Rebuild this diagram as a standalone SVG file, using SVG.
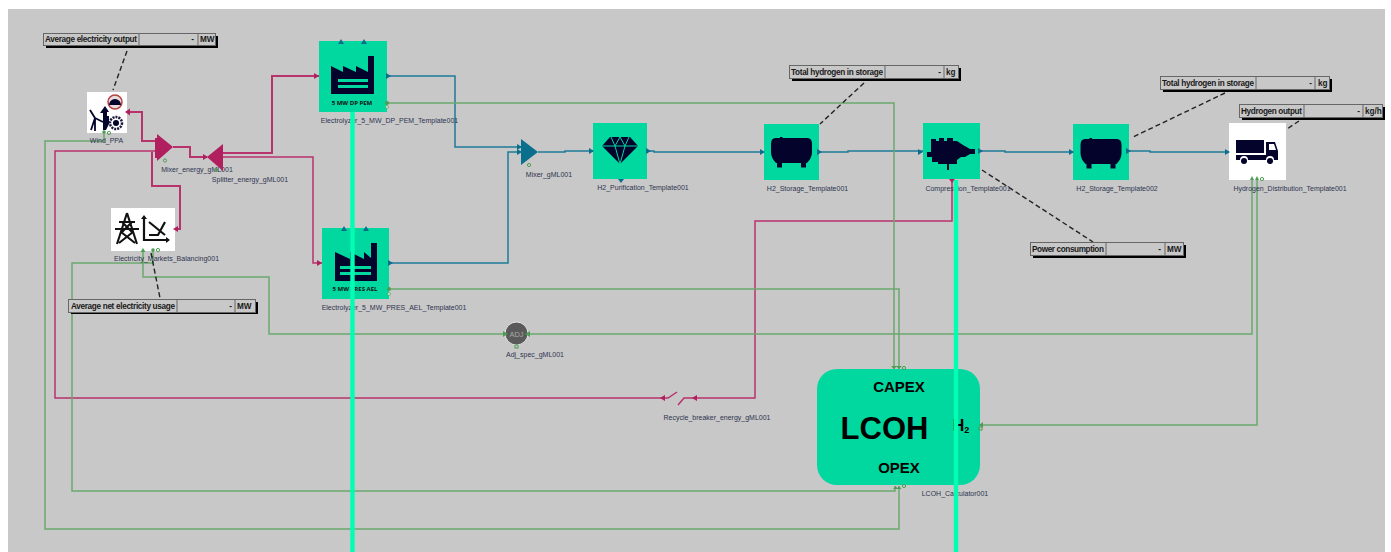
<svg xmlns="http://www.w3.org/2000/svg" width="1391" height="552" viewBox="0 0 1391 552">
<style>
.c{fill:none;stroke-width:1.5;stroke-linejoin:miter}
.r{stroke:#b8326c}.b{stroke:#1d7a96}.g{stroke:#6aa86e}
.t{stroke-width:2}
.d{fill:none;stroke:#222;stroke-width:1.4;stroke-dasharray:5 3}
.tr{fill:#b01f5e}.tb{fill:#0a6f8c}.tg{fill:#4f9d55}
.node{fill:#00d8a0}
.icon{fill:#03032c}
.lbl{font:7px "Liberation Sans",Arial,sans-serif;fill:#2e3450;text-anchor:middle}
.cap{font:bold 8.200px "Liberation Sans",Arial,sans-serif;fill:#1a1a1a}
.big{font-family:"Liberation Sans",Arial,sans-serif;font-weight:bold;fill:#000;text-anchor:middle}
.box{fill:#c8c8c8;stroke:#666;stroke-width:1}
.sh{fill:#000}
.cy{stroke:#00ffb2;stroke-width:4.400;fill:none}
.o{fill:none;stroke:#4f9d55;stroke-width:1}
.tag{font:bold 6px "Open Sans",sans-serif;fill:#111;text-anchor:middle}
</style>
<defs>
<path id="tank" class="icon" d="M-20.500-8Q-20.500-14-16-14H-11.500V-15H-9V-14H16Q20.500-14 20.500-8V0Q20.500 6 15.500 11H14.500V15.500H9.500V11H-9.500V15.500H-14.500V11H-15.500Q-20.500 6-20.500 0z"/>
</defs>
<rect width="1391" height="552" fill="#fff"/>
<rect x="8" y="9" width="1377" height="543" fill="#c8c8c8"/>

<g id="connectors">
<path class="c r t" d="M127 112H142V141H157"/>
<path class="c r t" d="M173 147H190V157H207"/>
<path class="c r t" d="M223 153H272V76H319"/>
<path class="c r" d="M223 157H313V263H322"/>
<path class="c r t" d="M172 229H180V186H152V152"/>
<path class="c r" d="M952 180V221H755V398H684L678 405"/>
<path class="c r" d="M677 392L668 398H55V151H157"/>
<path class="c b" d="M387 76H455V147H521"/>
<path class="c b" d="M389 263H508V152H521"/>
<path class="c b" d="M538 152H565V151H593"/>
<path class="c b" d="M647 151H654V152H764"/>
<path class="c b" d="M819 152H848V151H923"/>
<path class="c b" d="M980 151H1005V152H1073"/>
<path class="c b" d="M1129 151H1150V152H1229"/>
<path class="c g" d="M387 103H894V369"/>
<path class="c g" d="M389 289H899V369"/>
<path class="c g" d="M104 132V141H45V529H899V486"/>
<path class="c g" d="M153 250V263H72V491H895V486"/>
<path class="c g" d="M143 250V277H269V334H505"/>
<path class="c g" d="M528 334H1252V178"/>
<path class="c g" d="M1257 178V425H980"/>
<path class="d" d="M127 51L113 90"/>
<path class="d" d="M151 253L160 298"/>
<path class="d" d="M864 83L820 124"/>
<path class="d" d="M982 170L1093 242"/>
<path class="d" d="M1225 93L1133 137"/>
<path class="d" d="M1299 121L1287 129"/>
</g>

<g id="Wind_PPA">
<rect x="87" y="92" width="40" height="41" fill="#fff"/>
<circle cx="115" cy="102" r="7" fill="#e8dcdc" stroke="#b8403f" stroke-width="1.500"/>
<path class="icon" d="M109 105a6 6 0 0 1 12 0z"/>
<circle cx="116" cy="123" r="6" fill="none" stroke="#1a1a3c" stroke-width="2.500" stroke-dasharray="2 1"/>
<circle cx="116" cy="123" r="3" class="icon"/>
<path d="M95 131V118M95 118L90 110M95 118L91 130M95 118L103 122" fill="none" stroke="#03032c" stroke-width="1.800"/>
<path class="icon" d="M103 130V113L100 113L105 106L109 112L107 112V116H109V124L106 130z"/>
<text class="lbl" x="106.500" y="143">Wind_PPA</text>
</g>

<g id="Mixer_energy_gML001">
<path class="tr" d="M157 134L173 147L157 161z"/>
<text class="lbl" x="197" y="172">Mixer_energy_gML001</text>
</g>
<g id="Splitter_energy_gML001">
<path class="tr" d="M207 157L223 144V171z"/>
<text class="lbl" x="250" y="182">Splitter_energy_gML001</text>
</g>

<g id="Electricity_Markets_Balancing001">
<rect x="111" y="208" width="64" height="43" fill="#fff"/>
<path d="M127 213L117 244M127 213L137 244M119 222H135M115 229H139M121 232L135 243M133 232L119 243M122 222L133 233M132 222L121 233" fill="none" stroke="#111" stroke-width="2.100"/>
<path d="M144 218V240H168" fill="none" stroke="#111" stroke-width="2.200"/>
<path d="M149 222L165 235M149 235H158L165 222" fill="none" stroke="#111" stroke-width="2.200"/>
<path d="M141 219l3-4 3 4zM166 237l4 3-4 3z" fill="#111"/>
<text class="lbl" x="166.500" y="261">Electricity_Markets_Balancing001</text>
</g>

<g id="Electrolyzer_5_MW_DP_PEM_Template001">
<rect class="node" x="319" y="41" width="68" height="71"/>
<path class="icon" d="M331 66L343 72V66L356 72V66L368 72V56H374V94H331z"/>
<path fill="#00d8a0" d="M338 79H368V82H338zM338 85H368V88H338z"/>
<text class="tag" x="352" y="105">5 MW DP PEM</text>
<text class="lbl" x="389.500" y="123">Electrolyzer_5_MW_DP_PEM_Template001</text>
</g>

<g id="Electrolyzer_5_MW_PRES_AEL_Template001">
<rect class="node" x="322" y="228" width="67" height="71"/>
<path class="icon" d="M335 252L350 259V252L364 259V252L371 258V243H377V281H335z"/>
<path fill="#00d8a0" d="M340 266H371V269H340zM340 272H371V275H340z"/>
<text class="tag" x="355" y="291">5 MW PRES AEL</text>
<text class="lbl" x="394" y="310">Electrolyzer_5_MW_PRES_AEL_Template001</text>
</g>

<g id="Mixer_gML001">
<path class="tb" d="M521 139L538 152L521 165z"/>
<text class="lbl" x="549" y="177">Mixer_gML001</text>
</g>

<g id="H2_Purification_Template001">
<rect class="node" x="593" y="123" width="54" height="56"/>
<path class="icon" d="M610 137H630L638 146L620 164L602 146z"/>
<path d="M602 146H638M611 137L615 146L620 164M629 137L625 146L620 164M615 146L620 137L625 146" fill="none" stroke="#00d8a0" stroke-width="1"/>
<text class="lbl" x="643" y="190">H2_Purification_Template001</text>
</g>

<g id="H2_Storage_Template001">
<rect class="node" x="764" y="124" width="55" height="56"/>
<use href="#tank" x="791.500" y="152"/>
<text class="lbl" x="807.500" y="191">H2_Storage_Template001</text>
</g>

<g id="Compression_Template001">
<rect class="node" x="923" y="123" width="57" height="56"/>
<path class="icon" d="M927 152H931V139H936V141H939V138H944V141H947V138H953V141H957L963 145L970 149H975V154H970L965 157H961L957 160V164H949V170H947V164H938V162H932V157H927z"/>
<text class="lbl" x="968" y="191">Compression_Template001</text>
</g>

<g id="H2_Storage_Template002">
<rect class="node" x="1073" y="124" width="56" height="56"/>
<use href="#tank" x="1101" y="153"/>
<text class="lbl" x="1117" y="191">H2_Storage_Template002</text>
</g>

<g id="Hydrogen_Distribution_Template001">
<rect x="1229" y="123" width="57" height="57" fill="#fff"/>
<path class="icon" d="M1236 140H1264V153H1236zM1266 142H1275L1278 151V160H1274A4 4 0 0 0 1266 160H1248A4 4 0 0 0 1240 160H1236V155H1266z"/>
<path d="M1269 144V150H1276L1274 144z" fill="#fff"/>
<circle class="icon" cx="1244" cy="161" r="3"/><circle class="icon" cx="1270" cy="161" r="3"/>
<text class="lbl" x="1290" y="191">Hydrogen_Distribution_Template001</text>
</g>

<g id="Adj_spec_gML001">
<circle cx="516.500" cy="333.500" r="11.500" fill="#5a5a5a" stroke="#e8e8e8" stroke-width="1"/>
<text x="516.500" y="336.500" text-anchor="middle" style="font:7.500px 'Liberation Sans',sans-serif;fill:#a8a8a8">ADJ</text>
<text class="lbl" x="535" y="357">Adj_spec_gML001</text>
</g>

<g id="Recycle_breaker_energy_gML001">
<text class="lbl" x="717" y="420">Recycle_breaker_energy_gML001</text>
</g>

<g id="LCOH_Calculator001">
<rect class="node" x="817" y="369" width="163" height="116" rx="20"/>
<text class="big" x="899" y="392" font-size="15">CAPEX</text>
<text class="big" x="884.500" y="439" font-size="31">LCOH</text>
<text class="big" x="899" y="473" font-size="15">OPEX</text>
<text class="big" x="961" y="431" font-size="16">H<tspan font-size="9" dy="2">2</tspan></text>
<text class="lbl" x="955" y="496">LCOH_Calculator001</text>
</g>

<g id="readout_average_electricity_output">
<rect class="sh" x="46" y="36" width="172" height="12"/>
<rect class="box" x="43.500" y="33.500" width="172" height="12"/>
<path class="box" d="M139 33.500V45.500M198 33.500V45.500"/>
<text class="cap" x="45" y="42" textLength="92">Average electricity output</text>
<text class="cap" x="194" y="42" text-anchor="end">-</text>
<text class="cap" x="200" y="42">MW</text>
</g>
<g id="readout_average_net_electricity_usage">
<rect class="sh" x="71" y="302" width="187" height="12"/>
<rect class="box" x="68.500" y="299.500" width="187" height="13"/>
<path class="box" d="M177 299.500V312.500M235 299.500V312.500"/>
<text class="cap" x="71" y="309" textLength="104">Average net electricity usage</text>
<text class="cap" x="232" y="309" text-anchor="end">-</text>
<text class="cap" x="237" y="309">MW</text>
</g>
<g id="readout_total_hydrogen_1">
<rect class="sh" x="792" y="68" width="169" height="13"/>
<rect class="box" x="789.500" y="65.500" width="169" height="13"/>
<path class="box" d="M885 65.500V78.500M944 65.500V78.500"/>
<text class="cap" x="791" y="75" textLength="92">Total hydrogen in storage</text>
<text class="cap" x="941" y="75" text-anchor="end">-</text>
<text class="cap" x="946" y="75">kg</text>
</g>
<g id="readout_total_hydrogen_2">
<rect class="sh" x="1163" y="79" width="169" height="13"/>
<rect class="box" x="1160.500" y="76.500" width="169" height="13"/>
<path class="box" d="M1256 76.500V89.500M1315 76.500V89.500"/>
<text class="cap" x="1162" y="86" textLength="92">Total hydrogen in storage</text>
<text class="cap" x="1312" y="86" text-anchor="end">-</text>
<text class="cap" x="1318" y="86">kg</text>
</g>
<g id="readout_hydrogen_output">
<rect class="sh" x="1242" y="107" width="143" height="13"/>
<rect class="box" x="1239.500" y="104.500" width="143" height="13"/>
<path class="box" d="M1304 104.500V117.500M1363 104.500V117.500"/>
<text class="cap" x="1241" y="114" textLength="61">Hydrogen output</text>
<text class="cap" x="1360" y="114" text-anchor="end">-</text>
<text class="cap" x="1365" y="114">kg/h</text>
</g>
<g id="readout_power_consumption">
<rect class="sh" x="1033" y="245" width="153" height="13"/>
<rect class="box" x="1030.500" y="242.500" width="153" height="13"/>
<path class="box" d="M1106 242.500V255.500M1165 242.500V255.500"/>
<text class="cap" x="1032" y="252" textLength="72">Power consumption</text>
<text class="cap" x="1161" y="252" text-anchor="end">-</text>
<text class="cap" x="1167" y="252">MW</text>
</g>

<g id="ports">
<g class="tr">
<path d="M125 108.500v7l5-3.500z" transform="rotate(180 127.500 112)"/>
<path d="M314 73v6l5-3z"/><path d="M317 260v6l5-3z"/>
<path d="M697 395v6l-5-3zM665 395v6l-5-3z"/>
<path d="M949 179h6l-3 4z"/>
<path d="M178 226v6l-5-3z"/>
<path d="M155 138h2v20h-2zM203 154l5 3-5 3z"/>
</g>
<g class="tb">
<path d="M338 44l3-5 3 5zM361 44l3-5 3 5z"/>
<path d="M341 231l3-5 3 5zM363 231l3-5 3 5z"/>
<path d="M386 73v6l5-3zM388 260v6l5-3z"/>
<path d="M517 144v6l5-3zM517 149v6l5-3z"/>
<path d="M589 148v6l5-3zM646 148v6l5-3zM618 179h6l-3 4zM760 149v6l5-3zM817 149v6l5-3zM918 149v6l5-3zM978 148v6l5-3zM1069 149v6l5-3zM1126 148v6l5-3zM1225 149v6l5-3z"/>
</g>
<g class="tg">
<circle cx="104" cy="132" r="1.800"/><circle cx="153" cy="250" r="1.800"/>
<path d="M140.500 252l2.500-4 2.500 4z"/>
<circle cx="387" cy="103" r="2"/><circle cx="389" cy="289" r="2"/>
<path d="M1250 180l2-4 2 4zM1255 180l2-4 2 4z"/>
<path d="M503 331v6l5-3zM530 331v6l-5-3z"/>
<path d="M891 366h6l-3 3zM896 366h6l-3 3zM893 489h5l-2.500-3zM896.500 489h5l-2.500-3zM983 422v6l-4-3z"/>
</g>
<circle class="o" cx="109" cy="133" r="1.600"/><circle class="o" cx="158" cy="250" r="1.600"/>
<circle class="o" cx="165" cy="160.500" r="1.600"/><circle class="o" cx="216" cy="170" r="1.600"/>
<circle class="o" cx="529" cy="165" r="1.600"/>
<circle cx="387" cy="107" r="1.400" fill="#fff" stroke="#4f9d55" stroke-width=".8"/>
<circle cx="389" cy="294" r="1.400" fill="#fff" stroke="#4f9d55" stroke-width=".8"/>
<circle class="o" cx="1262" cy="179" r="1.600"/>
<rect class="o" x="979" y="427" width="3" height="3"/>
<circle class="o" cx="904" cy="368" r="1.600"/><circle class="o" cx="904" cy="486" r="1.600"/>
<rect class="o" x="515" y="345" width="3" height="3"/>
</g>

<g id="highlights">
<path class="cy" d="M352.500 112V552"/>
<path class="cy" d="M956 180V552"/>
</g>
</svg>
